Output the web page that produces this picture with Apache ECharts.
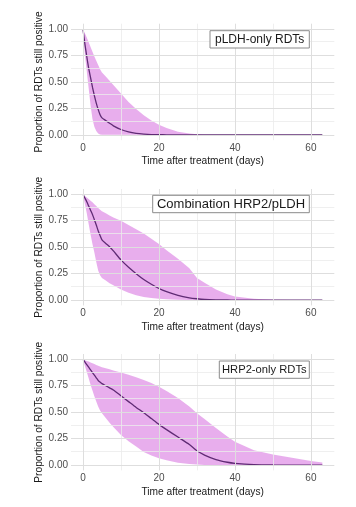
<!DOCTYPE html>
<html>
<head>
<meta charset="utf-8">
<style>
html,body{margin:0;padding:0;background:#fff;}
#c{width:356px;height:507px;}
</style>
<script src="https://cdn.jsdelivr.net/npm/echarts@6/dist/echarts.min.js"></script>
</head>
<body>
<div id="c"></div>
<script>
// ---- data ----
const DAYS = [0,0.5,1,1.5,2,2.5,3,3.5,4,4.5,5,6,7,8,10,12,14,16,18,20,22,25,28,30,32,35,38,40,45,50,55,60,63];

const PANEL_TITLES = ['pLDH-only RDTs', 'Combination HRP2/pLDH', 'HRP2-only RDTs'];
const X_TICKS = [0, 20, 40, 60];
const Y_TICKS = [0, 0.25, 0.5, 0.75, 1];
const X_MINOR = [10, 30, 50];
const Y_MINOR = [0.125, 0.375, 0.625, 0.875];

// pLDH-only
const PLDH_MEDIAN = [1,0.86,0.74,0.63,0.54,0.45,0.37,0.30,0.24,0.19,0.16,0.135,0.11,0.085,0.05,0.027,0.013,0.006,0.002,0.001,0,0,0,0,0,0,0,0,0,0,0,0,0];
const PLDH_UPPER  = [1,0.96,0.92,0.875,0.83,0.785,0.74,0.70,0.66,0.62,0.59,0.55,0.51,0.47,0.39,0.31,0.245,0.185,0.135,0.095,0.065,0.03,0.012,0.005,0.001,0,0,0,0,0,0,0,0];
const PLDH_LOWER  = [1,0.76,0.6,0.44,0.28,0.15,0.075,0.035,0.012,0.004,0.001,0,0,0,0,0,0,0,0,0,0,0,0,0,0,0,0,0,0,0,0,0,0];

// Combination HRP2/pLDH
const COMBO_MEDIAN = [1,0.965,0.93,0.89,0.85,0.81,0.76,0.71,0.655,0.61,0.57,0.535,0.505,0.465,0.38,0.31,0.25,0.195,0.15,0.11,0.08,0.045,0.022,0.013,0.007,0.003,0.001,0,0,0,0,0,0];
const COMBO_UPPER  = [1,0.985,0.97,0.955,0.94,0.925,0.905,0.89,0.87,0.855,0.84,0.82,0.80,0.78,0.75,0.71,0.67,0.63,0.58,0.53,0.47,0.39,0.30,0.21,0.165,0.10,0.055,0.035,0.012,0.003,0.001,0,0];
const COMBO_LOWER  = [1,0.91,0.82,0.72,0.62,0.53,0.45,0.36,0.28,0.235,0.21,0.185,0.16,0.14,0.10,0.07,0.045,0.03,0.02,0.013,0.008,0.004,0.001,0,0,0,0,0,0,0,0,0,0];

// HRP2-only
const HRP2_MEDIAN = [1,0.975,0.95,0.925,0.90,0.875,0.85,0.825,0.80,0.785,0.77,0.75,0.73,0.71,0.655,0.60,0.545,0.495,0.44,0.385,0.335,0.265,0.195,0.135,0.095,0.052,0.027,0.017,0.005,0.001,0,0,0];
const HRP2_UPPER  = [1,0.99,0.985,0.98,0.97,0.962,0.955,0.947,0.94,0.933,0.925,0.915,0.905,0.895,0.875,0.855,0.83,0.805,0.775,0.74,0.70,0.635,0.555,0.49,0.435,0.35,0.27,0.22,0.14,0.10,0.07,0.04,0.025];
const HRP2_LOWER  = [1,0.94,0.88,0.82,0.76,0.705,0.65,0.60,0.555,0.515,0.49,0.445,0.40,0.36,0.285,0.225,0.175,0.125,0.09,0.065,0.045,0.022,0.01,0.005,0.002,0,0,0,0,0,0,0,0];

const PANELS = [
  {median: PLDH_MEDIAN, upper: PLDH_UPPER, lower: PLDH_LOWER},
  {median: COMBO_MEDIAN, upper: COMBO_UPPER, lower: COMBO_LOWER},
  {median: HRP2_MEDIAN, upper: HRP2_UPPER, lower: HRP2_LOWER}
];

// ---- styling / layout ----
const FONT = 'Liberation Sans, Arial, sans-serif';
const BAND = 'rgba(214,108,222,0.55)';
const LINE = '#5f2b74';
const MAJOR = '#dedede';
const MINOR = '#ebebeb';
const GRID_TOPS = [23.7, 189, 354];
const GRID_H = 116.4;
const BOXES = [
  {x:210, y:30.7, w:99.3, h:17.3, fs:12},
  {x:152.7, y:195.3, w:156.6, h:17.4, fs:13},
  {x:219.3, y:361, w:90, h:17.3, fs:11.2}
];

const grid = [], xAxis = [], yAxis = [], series = [], graphic = [];

PANELS.forEach((p, i) => {
  grid.push({left: 71, width: 263.3, top: GRID_TOPS[i], height: GRID_H, containLabel: false});
  xAxis.push({
    type: 'value', gridIndex: i, min: -3.15, max: 66.15,
    axisLine: {show: false}, axisTick: {show: false}, splitLine: {show: false},
    axisLabel: {customValues: X_TICKS, color: '#4d4d4d', fontSize: 10, fontFamily: FONT, margin: 3},
    name: 'Time after treatment (days)', nameLocation: 'middle', nameGap: 16.5, nameMoveOverlap: false,
    nameTextStyle: {color: '#1a1a1a', fontSize: 10.2, fontFamily: FONT}
  });
  yAxis.push({
    type: 'value', gridIndex: i, min: -0.05, max: 1.05,
    axisLine: {show: false}, axisTick: {show: false}, splitLine: {show: false},
    axisLabel: {customValues: Y_TICKS, color: '#4d4d4d', fontSize: 10, fontFamily: FONT, margin: 3,
      formatter: v => v.toFixed(2)},
    name: 'Proportion of RDTs still positive', nameLocation: 'middle', nameGap: 27, nameMoveOverlap: false,
    nameTextStyle: {color: '#1a1a1a', fontSize: 10.2, fontFamily: FONT}
  });

  const mlData = [];
  X_MINOR.forEach(v => mlData.push({xAxis: v, lineStyle: {color: MINOR, width: 0.8, type: 'solid'}}));
  Y_MINOR.forEach(v => mlData.push({yAxis: v, lineStyle: {color: MINOR, width: 0.8, type: 'solid'}}));
  X_TICKS.forEach(v => mlData.push({xAxis: v, lineStyle: {color: MAJOR, width: 1, type: 'solid'}}));
  Y_TICKS.forEach(v => mlData.push({yAxis: v, lineStyle: {color: MAJOR, width: 1, type: 'solid'}}));

  // gridlines
  series.push({
    type: 'line', xAxisIndex: i, yAxisIndex: i, data: [], z: 1, silent: true,
    markLine: {silent: true, symbol: 'none', label: {show: false}, animation: false, data: mlData}
  });
  // band
  series.push({
    type: 'custom', xAxisIndex: i, yAxisIndex: i, z: 2, silent: true,
    data: [[0, 1]],
    renderItem: (params, api) => {
      const pts = [];
      for (let k = 0; k < DAYS.length; k++) pts.push(api.coord([DAYS[k], p.upper[k]]));
      for (let k = DAYS.length - 1; k >= 0; k--) pts.push(api.coord([DAYS[k], p.lower[k]]));
      return {type: 'polygon', shape: {points: pts}, style: {fill: BAND, stroke: null}};
    }
  });
  // median
  series.push({
    type: 'line', xAxisIndex: i, yAxisIndex: i, z: 3, silent: true,
    data: DAYS.map((d, k) => [d, p.median[k]]),
    symbol: 'none', smooth: 0.2,
    lineStyle: {color: LINE, width: 1.3}
  });

  const b = BOXES[i];
  graphic.push({
    type: 'rect', shape: {x: b.x, y: b.y, width: b.w, height: b.h},
    style: {fill: '#fff', stroke: '#8a8a8a', lineWidth: 1}, z: 10
  });
  graphic.push({
    type: 'text', x: b.x + b.w / 2, y: b.y + b.h / 2 + 0.5, z: 11,
    style: {text: PANEL_TITLES[i], fill: '#1a1a1a', font: b.fs + 'px ' + FONT, align: 'center', verticalAlign: 'middle'}
  });
});

const chart = echarts.init(document.getElementById('c'), null, {renderer: 'canvas'});
chart.setOption({
  backgroundColor: '#fff',
  animation: false,
  grid, xAxis, yAxis, series, graphic
});
</script>
</body>
</html>
